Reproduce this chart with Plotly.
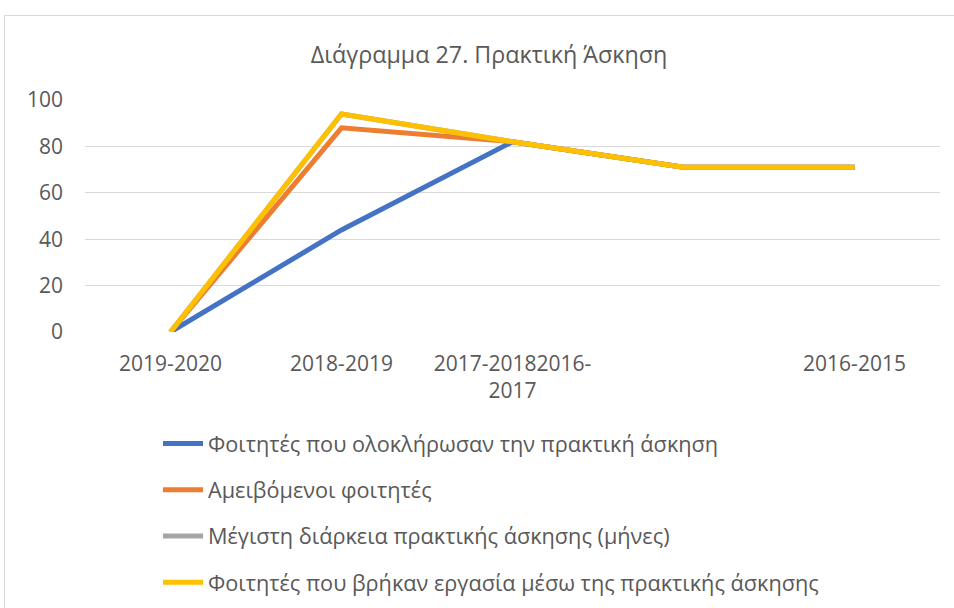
import plotly.graph_objects as go

categories = ["2019-2020", "2018-2019", "2017-2018", "2016-2017", "2016-2015"]
tick_labels = ["2019-2020", "2018-2019", "2017-20182016-<br>2017", "", "2016-2015"]

series_names = [
    "Φοιτητές που ολοκλήρωσαν την πρακτική άσκηση",
    "Αμειβόμενοι φοιτητές",
    "Μέγιστη διάρκεια πρακτικής άσκησης (μήνες)",
    "Φοιτητές που βρήκαν εργασία μέσω της πρακτικής άσκησης",
]
completed = [0, 44, 82, 71, 71]
paid = [0, 88, 82, 71, 71]
max_duration = [0, 94, 82, 71, 71]
found_job = [0, 94, 82, 71, 71]
series_values = [completed, paid, max_duration, found_job]
colors = ["#4472C4", "#ED7D31", "#A5A5A5", "#FFC000"]

FONT = "Open Sans"
TXT = "#595959"

fig = go.Figure()
for i, (name, vals, col) in enumerate(zip(series_names, series_values, colors)):
    fig.add_trace(go.Scatter(
        x=categories, y=vals, name=name, mode="lines",
        line=dict(color=col, width=5), legendgroup=f"g{i}",
    ))

W, H = 954, 608
L, R, T, B = 85, 14, 100, 276
pw, ph = W - L - R, H - T - B

def px_x(x):
    return (x - L) / pw

def px_y(y):
    return (H - B - y) / ph

fig.update_layout(
    width=W, height=H,
    margin=dict(l=L, r=R, t=T, b=B, autoexpand=False),
    paper_bgcolor="white", plot_bgcolor="white",
    font=dict(family=FONT, color=TXT, size=21),
    title=dict(text="Διάγραμμα 27. Πρακτική Άσκηση", x=489 / W, y=1 - 55 / H,
               xref="container", yref="container", xanchor="center", yanchor="middle",
               font=dict(size=23.3, color=TXT, family=FONT)),
    xaxis=dict(
        type="category", tickvals=categories, ticktext=tick_labels,
        showgrid=False, zeroline=False, showline=False, ticks="",
        tickfont=dict(size=21, color=TXT), ticklabelstandoff=17,
        range=[-0.5, 4.5],
    ),
    yaxis=dict(
        range=[0, 100], tickvals=[0, 20, 40, 60, 80, 100],
        showgrid=True, gridcolor="#D9D9D9", gridwidth=1,
        zeroline=False, showline=False, ticks="",
        tickfont=dict(size=21, color=TXT), ticklabelstandoff=21,
    ),
    showlegend=True,
    legend=dict(
        orientation="v", xref="container", yref="container",
        x=158 / W, y=1 - 423 / H, xanchor="left", yanchor="top",
        traceorder="grouped", tracegroupgap=15,
        font=dict(size=21.7, color=TXT, family=FONT),
        bgcolor="rgba(0,0,0,0)", itemwidth=40,
    ),
    shapes=[dict(
        type="rect", xref="paper", yref="paper",
        x0=px_x(4.5), x1=px_x(1000), y0=px_y(700), y1=px_y(15.5),
        line=dict(color="#D9D9D9", width=1), fillcolor="rgba(0,0,0,0)", layer="below",
    )],
)

fig.write_html("out.html", config={"displayModeBar": False},
               post_script="document.body.style.margin='0';")
